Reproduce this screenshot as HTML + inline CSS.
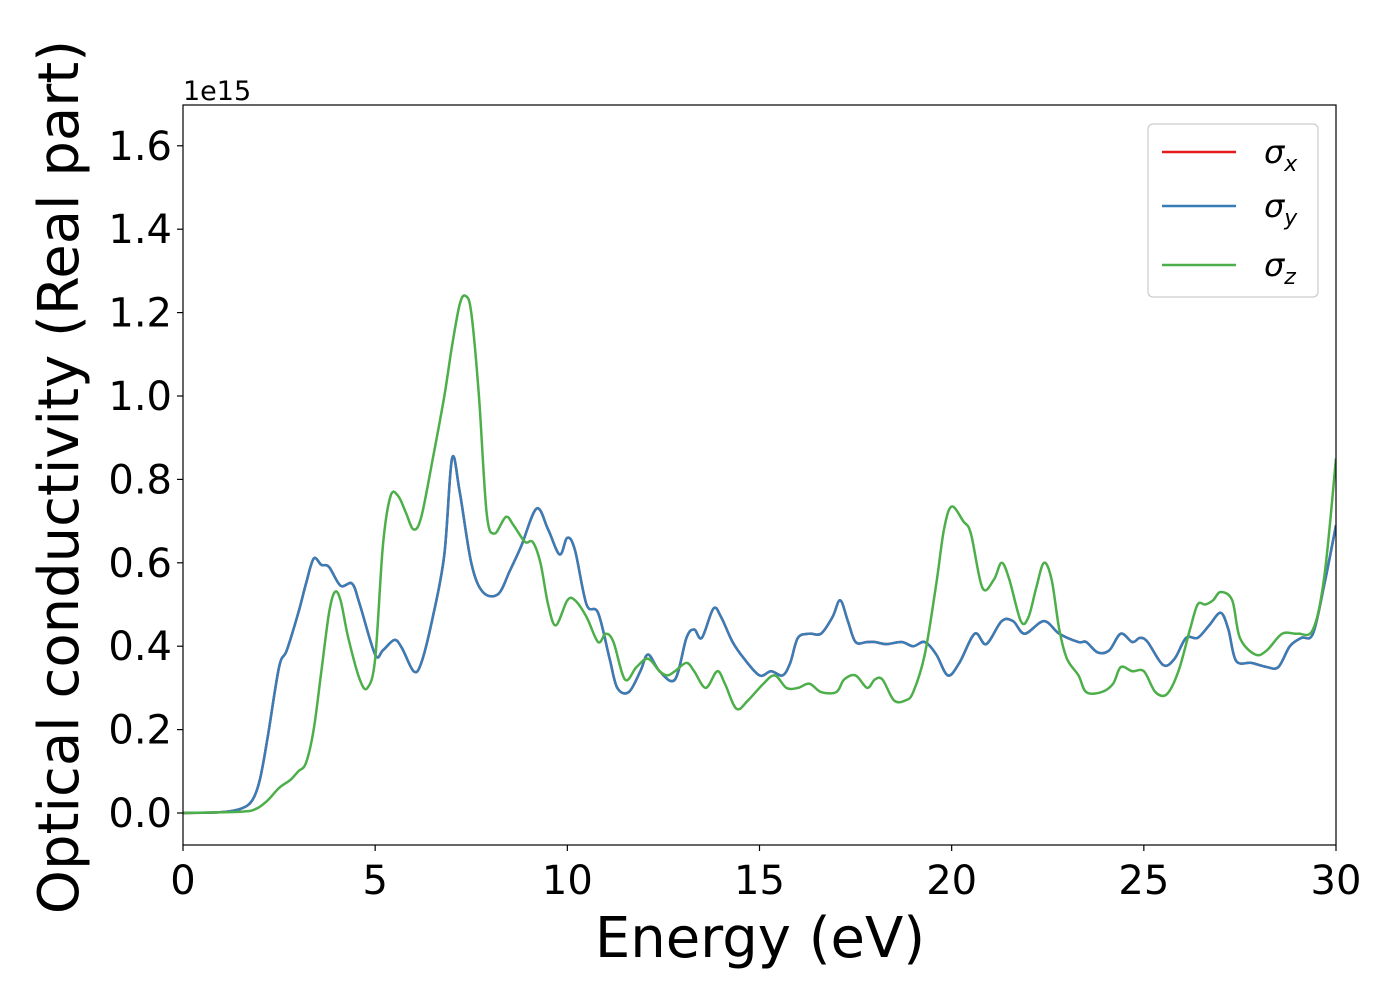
<!DOCTYPE html>
<html><head><meta charset="utf-8"><style>
body{margin:0;background:#fff}
svg text{font-family:"DejaVu Sans","Liberation Sans",sans-serif;fill:#000}
</style></head><body>
<svg width="1400" height="1000" xmlns="http://www.w3.org/2000/svg">
<g id="plot"></g>
</svg>
<script>
const energyX=[0,1,1.5,1.8,2,2.2,2.5,2.7,3,3.2,3.4,3.6,3.8,4.1,4.4,4.6,5,5.2,5.5,5.7,6,6.2,6.5,6.8,7,7.2,7.5,7.8,8.2,8.5,8.8,9.2,9.5,9.8,10,10.2,10.5,10.8,11.1,11.3,11.6,11.9,12.1,12.4,12.8,13.1,13.3,13.5,13.8,14,14.3,14.6,15,15.3,15.6,15.8,16,16.3,16.6,16.9,17.1,17.3,17.5,17.8,18,18.3,18.7,19,19.3,19.6,19.9,20.2,20.6,20.9,21.3,21.6,21.9,22.4,22.8,23.3,23.5,23.8,24.1,24.4,24.7,24.9,25.1,25.5,25.8,26.1,26.4,26.7,27,27.2,27.4,27.8,28.2,28.5,28.8,29.1,29.4,29.7,30];
const sigmaXY=[0,0.002,0.01,0.03,0.08,0.18,0.35,0.39,0.48,0.55,0.61,0.595,0.59,0.545,0.55,0.5,0.38,0.39,0.415,0.395,0.34,0.36,0.47,0.62,0.85,0.77,0.6,0.53,0.525,0.58,0.64,0.73,0.68,0.62,0.66,0.63,0.5,0.48,0.37,0.3,0.29,0.34,0.38,0.34,0.32,0.42,0.44,0.42,0.49,0.47,0.41,0.37,0.33,0.34,0.33,0.36,0.42,0.43,0.43,0.47,0.51,0.46,0.41,0.41,0.41,0.405,0.41,0.40,0.41,0.38,0.33,0.36,0.43,0.405,0.46,0.46,0.43,0.46,0.43,0.41,0.41,0.385,0.39,0.43,0.41,0.42,0.41,0.355,0.37,0.42,0.42,0.45,0.48,0.44,0.365,0.36,0.35,0.35,0.40,0.42,0.43,0.55,0.69];
const energyZ=[0,1.5,1.9,2.2,2.5,2.8,3,3.2,3.4,3.6,3.8,3.95,4.1,4.3,4.6,4.8,5,5.2,5.4,5.6,5.8,6,6.2,6.5,6.8,7,7.2,7.35,7.5,7.7,7.9,8.1,8.4,8.6,8.9,9.1,9.3,9.5,9.7,10,10.2,10.5,10.8,11,11.2,11.5,11.8,12.1,12.4,12.6,12.8,13.1,13.3,13.6,13.9,14.1,14.4,14.7,15.1,15.4,15.7,16,16.3,16.6,17,17.2,17.5,17.8,18,18.2,18.5,18.8,19,19.3,19.6,19.8,20,20.3,20.5,20.8,21.1,21.3,21.5,21.8,22,22.2,22.4,22.6,22.8,23,23.3,23.5,23.9,24.2,24.4,24.7,25,25.3,25.6,25.9,26.2,26.4,26.6,26.8,27,27.3,27.5,27.9,28.2,28.6,29,29.4,29.7,30];
const sigmaZ=[0,0.003,0.01,0.03,0.06,0.08,0.1,0.12,0.2,0.34,0.48,0.53,0.51,0.42,0.32,0.30,0.37,0.64,0.76,0.76,0.72,0.68,0.71,0.85,1.0,1.12,1.22,1.24,1.2,1.0,0.72,0.67,0.71,0.69,0.65,0.65,0.6,0.5,0.45,0.51,0.51,0.47,0.41,0.43,0.41,0.32,0.35,0.37,0.34,0.33,0.34,0.36,0.34,0.30,0.34,0.31,0.25,0.27,0.31,0.33,0.30,0.30,0.31,0.29,0.29,0.32,0.33,0.30,0.32,0.32,0.27,0.27,0.29,0.38,0.55,0.68,0.735,0.70,0.67,0.54,0.56,0.60,0.56,0.46,0.47,0.54,0.60,0.56,0.44,0.37,0.33,0.29,0.29,0.31,0.35,0.34,0.34,0.29,0.285,0.34,0.44,0.50,0.50,0.51,0.53,0.51,0.42,0.38,0.39,0.43,0.43,0.44,0.57,0.85];
const xTicks=[0,5,10,15,20,25,30];
const yTicks=[0,0.2,0.4,0.6,0.8,1.0,1.2,1.4,1.6];
const seriesNames=["σx","σy","σz"];

const X0=183,X1=1336,YT=105,YB=845;
const xs=v=>X0+(v/30)*(X1-X0);
const ys=v=>813-v*(83.4/0.2);
const NS="http://www.w3.org/2000/svg";
const g=document.getElementById('plot');
function mk(t,a){const e=document.createElementNS(NS,t);for(const k in a)e.setAttribute(k,a[k]);g.appendChild(e);return e;}
function path(xa,ya){
  const p=xa.map((x,i)=>[xs(x),ys(ya[i])]);
  let d=`M${p[0][0]},${p[0][1]}`;
  for(let i=0;i<p.length-1;i++){
    const p0=p[i-1]||p[i],p1=p[i],p2=p[i+1],p3=p[i+2]||p2;
    const c1=[p1[0]+(p2[0]-p0[0])/6,p1[1]+(p2[1]-p0[1])/6];
    const c2=[p2[0]-(p3[0]-p1[0])/6,p2[1]-(p3[1]-p1[1])/6];
    d+=`C${c1[0]},${c1[1]} ${c2[0]},${c2[1]} ${p2[0]},${p2[1]}`;
  }
  return d;
}
let cp=mk('clipPath',{id:'clip'});cp.appendChild(Object.assign(document.createElementNS(NS,'rect'),{}));
cp.firstChild.setAttribute('x',X0);cp.firstChild.setAttribute('y',YT);cp.firstChild.setAttribute('width',X1-X0);cp.firstChild.setAttribute('height',YB-YT);

let e;
e=mk('path',{d:path(energyX,sigmaXY),fill:'none',stroke:'#e41a1c','stroke-width':2.5,'clip-path':'url(#clip)'});


e=mk('path',{d:path(energyX,sigmaXY),fill:'none',stroke:'#377eb8','stroke-width':2.5,'clip-path':'url(#clip)'});


e=mk('path',{d:path(energyZ,sigmaZ),fill:'none',stroke:'#4daf4a','stroke-width':2.5,'clip-path':'url(#clip)'});



e=mk('rect',{x:X0,y:YT,width:X1-X0,height:YB-YT,fill:'none',stroke:'#000','stroke-width':1.2});



xTicks.forEach(v=>{
  mk('line',{x1:xs(v),x2:xs(v),y1:YB,y2:YB+6,stroke:'#000','stroke-width':1.2});
  const t=mk('text',{x:xs(v),y:894,'text-anchor':'middle','font-size':40});t.textContent=v;
  
  
});
yTicks.forEach(v=>{
  mk('line',{x1:X0-6,x2:X0,y1:ys(v),y2:ys(v),stroke:'#000','stroke-width':1.2});
  const t=mk('text',{x:172,y:ys(v)+14,'text-anchor':'end','font-size':40});t.textContent=v.toFixed(1);
  
  
});
e=mk('text',{x:183,y:100,'font-size':27});e.textContent='1e15';


e=mk('text',{x:760,y:957,'text-anchor':'middle','font-size':56});e.textContent='Energy (eV)';


e=mk('text',{x:0,y:0,'text-anchor':'middle','font-size':56,transform:'translate(78,477) rotate(-90)'});e.textContent='Optical conductivity (Real part)';



e=mk('rect',{x:1148,y:124,width:170,height:173,rx:5,fill:'#fff',stroke:'#ccc','stroke-width':1.2});


const cols=['#e41a1c','#377eb8','#4daf4a'],subs=['x','y','z'],ly=[152,206,265];
seriesNames.forEach((n,i)=>{
  mk('line',{x1:1162,x2:1236,y1:ly[i],y2:ly[i],stroke:cols[i],'stroke-width':2.5});
  const t=mk('text',{x:1264,y:ly[i]+11,'font-size':32,'font-style':'italic'});
  t.innerHTML='σ<tspan font-size="22" dy="8">'+subs[i]+'</tspan>';
  
  
});
</script>
</body></html>
